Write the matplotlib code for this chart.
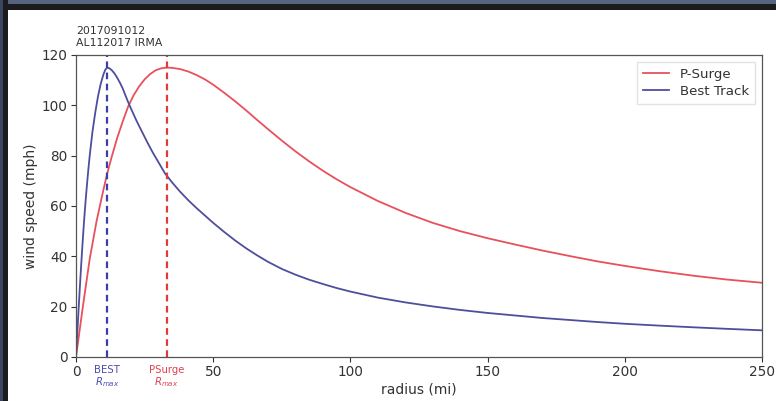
import matplotlib
matplotlib.use("Agg")
import matplotlib.pyplot as plt
from matplotlib.patches import Rectangle

# ---- data ----
radius_best = [0, 0.5, 1, 1.5, 2, 2.5, 3, 3.5, 4, 4.5, 5, 6, 7, 8, 9, 10, 10.7, 11.4,
               12.2, 13, 14, 15, 16, 17, 18, 19, 20, 22, 24, 26, 28, 30, 32.4, 35, 38,
               41, 44, 47, 50, 54, 58, 62, 66, 70, 75, 80, 85, 90, 95, 100, 110, 120,
               130, 140, 150, 160, 170, 180, 190, 200, 212, 225, 237, 250]
wind_best = [0, 10, 20, 29.5, 38.5, 47, 55, 62, 68.5, 74.5, 80, 89.5, 97, 103.5, 108.5,
             112.3, 114.2, 115, 114.7, 114, 112.7, 111, 109, 106.8, 104, 101.3, 98.8,
             94, 89.6, 85.3, 81.2, 77.5, 73, 69.4, 65.6, 62.2, 59.1, 56.2, 53.3, 49.7,
             46.3, 43.2, 40.4, 37.8, 35, 32.7, 30.7, 29, 27.4, 26, 23.6, 21.7, 20.1,
             18.7, 17.5, 16.5, 15.5, 14.7, 13.9, 13.2, 12.5, 11.8, 11.2, 10.6]

radius_psurge = [0, 2.5, 5, 7.5, 10, 11.4, 13, 15, 17, 19, 21, 23, 25, 27, 29, 31, 33,
                 35, 38, 41, 44, 47, 50, 54, 58, 62, 66, 70, 75, 80, 85, 90, 95, 100,
                 110, 120, 130, 140, 150, 160, 170, 180, 190, 200, 212, 225, 237, 250]
wind_psurge = [0, 20, 39, 54, 66.5, 73, 79.5, 87, 93.5, 99.5, 104, 107.5, 110.3, 112.4,
               113.9, 114.7, 115, 114.9, 114.4, 113.4, 112, 110.3, 108.2, 105, 101.6,
               98, 94.2, 90.5, 86, 81.7, 77.7, 74, 70.6, 67.5, 62, 57.3, 53.3, 50, 47.2,
               44.7, 42.3, 40.1, 38, 36.2, 34.2, 32.3, 30.8, 29.5]

rmax_best = 11.4
rmax_psurge = 33.0

series_labels = ["P-Surge", "Best Track"]
xticks = [0, 50, 100, 150, 200, 250]
yticks = [0, 20, 40, 60, 80, 100, 120]
title_text = "2017091012\nAL112017 IRMA"

RED = "#e8505c"
BLUE = "#4e4e9e"
TXT = "#333333"

fig = plt.figure(figsize=(7.76, 4.01), dpi=100)
fig.patch.set_facecolor("white")

# dark slide frame
fig.patches.append(Rectangle((0, 1 - 10 / 401), 1, 10 / 401, transform=fig.transFigure,
                             facecolor="#1b1b1e", edgecolor="none", zorder=0))
fig.patches.append(Rectangle((0, 1 - 4 / 401), 1, 4 / 401, transform=fig.transFigure,
                             facecolor="#56647f", edgecolor="none", zorder=0))
fig.patches.append(Rectangle((0, 0), 8 / 776, 1, transform=fig.transFigure,
                             facecolor="#1b1b1e", edgecolor="none", zorder=0))
fig.patches.append(Rectangle((0, 0), 3 / 776, 1, transform=fig.transFigure,
                             facecolor="#3a4560", edgecolor="none", zorder=0))

ax = fig.add_axes([76 / 776, 1 - 357 / 401, (762 - 76) / 776, (357 - 55) / 401])

ax.plot(radius_psurge, wind_psurge, color=RED, lw=1.3, label=series_labels[0])
ax.plot(radius_best, wind_best, color=BLUE, lw=1.3, label=series_labels[1])
ax.axvline(rmax_best, color="#3c3caa", lw=1.6, ls=(0, (3, 2)))
ax.axvline(rmax_psurge, color="#e03a3a", lw=1.6, ls=(0, (3, 2)))

ax.set_xlim(0, 250)
ax.set_ylim(0, 120)
ax.set_xticks(xticks)
ax.set_yticks(yticks)
ax.tick_params(labelsize=9.8, colors=TXT, length=3.5, width=0.8, pad=2.5)
for s in ax.spines.values():
    s.set_color("#555555")
    s.set_linewidth(0.9)

ax.set_xlabel("radius (mi)", fontsize=10, color=TXT)
ax.xaxis.set_label_coords(0.5, -0.085)
ax.set_ylabel("wind speed (mph)", fontsize=10, color=TXT, labelpad=3)

ax.text(0, 1.022, title_text, transform=ax.transAxes, ha="left", va="bottom",
        fontsize=7.8, color=TXT, linespacing=1.3)

# Rmax labels below the axis
trans = ax.get_xaxis_transform()
ax.text(rmax_best, -0.025, "BEST\n$R_{max}$", transform=trans, ha="center", va="top",
        fontsize=7.3, color="#4a4ab0", linespacing=1.05)
ax.text(rmax_psurge, -0.025, "PSurge\n$R_{max}$", transform=trans, ha="center", va="top",
        fontsize=7.3, color="#e04050", linespacing=1.05)

leg = ax.legend(loc="upper right", fontsize=9.6, frameon=True, fancybox=False,
                edgecolor="#dddddd", handlelength=2.0, borderpad=0.45, labelspacing=0.3,
                borderaxespad=0.5)
for t in leg.get_texts():
    t.set_color(TXT)

fig.savefig("out.png", dpi=100)
